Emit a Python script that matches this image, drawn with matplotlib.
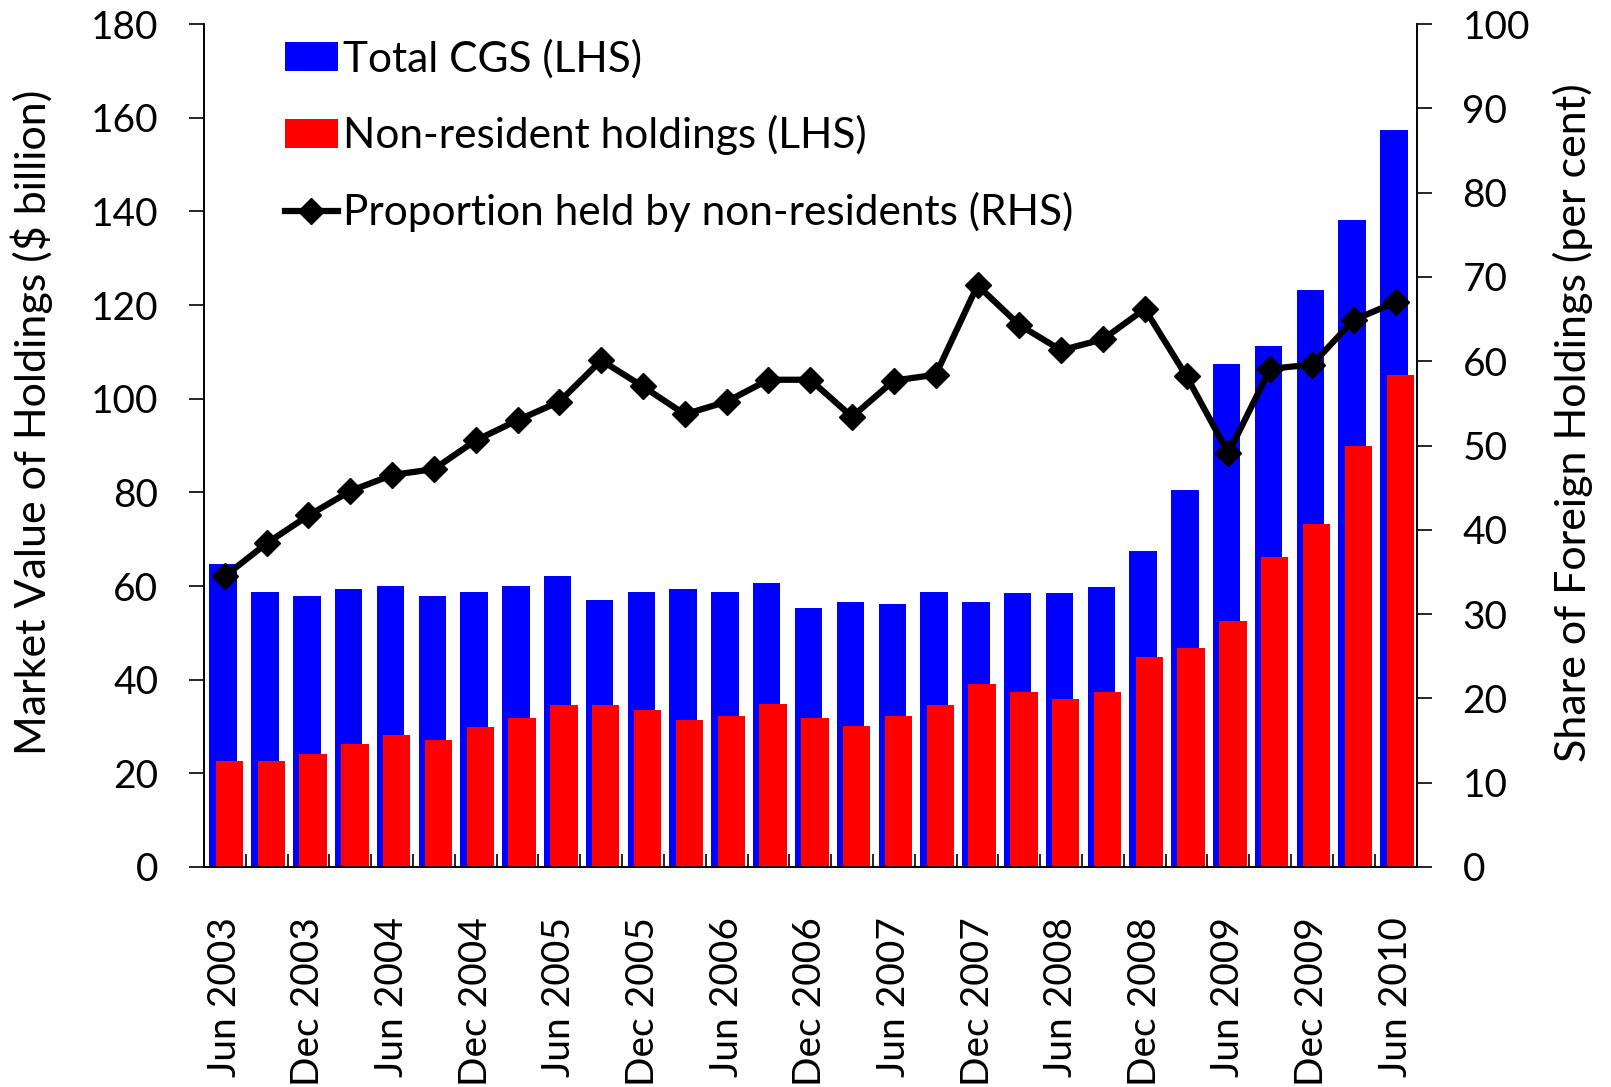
import matplotlib
matplotlib.use("Agg")
import matplotlib.pyplot as plt
import numpy as np

plt.rcParams['font.family'] = ['Lato', 'DejaVu Sans']

quarters = ["Jun 2003", "Sep 2003", "Dec 2003", "Mar 2004", "Jun 2004", "Sep 2004",
            "Dec 2004", "Mar 2005", "Jun 2005", "Sep 2005", "Dec 2005", "Mar 2006",
            "Jun 2006", "Sep 2006", "Dec 2006", "Mar 2007", "Jun 2007", "Sep 2007",
            "Dec 2007", "Mar 2008", "Jun 2008", "Sep 2008", "Dec 2008", "Mar 2009",
            "Jun 2009", "Sep 2009", "Dec 2009", "Mar 2010", "Jun 2010"]

total_cgs = [64.8, 58.8, 57.9, 59.3, 60.1, 57.9, 58.8, 60.1, 62.1, 57.1,
             58.8, 59.3, 58.8, 60.6, 55.3, 56.6, 56.2, 58.8, 56.6, 58.4,
             58.4, 59.7, 67.4, 80.6, 107.3, 111.3, 123.1, 138.1, 157.4]

non_resident = [22.6, 22.6, 24.1, 26.3, 28.1, 27.2, 29.9, 31.8, 34.5, 34.5,
                33.6, 31.4, 32.3, 34.9, 31.8, 30.1, 32.3, 34.5, 39.1, 37.3,
                35.8, 37.3, 44.8, 46.8, 52.5, 66.1, 73.3, 90.0, 105.1]

proportion = [34.5, 38.4, 41.7, 44.6, 46.5, 47.2, 50.6, 53.0, 55.2, 60.1,
              57.0, 53.7, 55.2, 57.8, 57.8, 53.4, 57.7, 58.4, 69.0, 64.3,
              61.3, 62.6, 66.2, 58.2, 49.1, 59.1, 59.6, 64.9, 67.0]

label_names = ["Total CGS (LHS)", "Non-resident holdings (LHS)",
               "Proportion held by non-residents (RHS)"]

fig = plt.figure(figsize=(16.11, 10.87), dpi=100)
ax = fig.add_axes([0.1266, 0.2024, 0.8793 - 0.1266, 0.9779 - 0.2024])
ax2 = ax.twinx()

x = np.arange(len(quarters))
w = 0.655
b1 = ax.bar(x - 0.04, total_cgs, width=w, color='#0000FF', label=label_names[0], zorder=2)
b2 = ax.bar(x + 0.11, non_resident, width=w, color='#FF0000', label=label_names[1], zorder=3)
ln, = ax2.plot(x, proportion, color='black', lw=4.5, marker='D', markersize=13.5,
               label=label_names[2], zorder=5)

ax.set_xlim(-0.5, len(quarters) - 0.5)
ax.set_ylim(0, 180)
ax2.set_ylim(0, 100)
ax.set_yticks(np.arange(0, 181, 20))
ax2.set_yticks(np.arange(0, 101, 10))

fs = 28
ax.tick_params(axis='y', labelsize=fs, direction='out', length=11, width=1.2, pad=22)
ax2.tick_params(axis='y', labelsize=fs, direction='out', length=11, width=1.2, pad=22)

ax.set_xticks(x[::2])
ax.set_xticklabels(quarters[::2], rotation=90, fontsize=fs)
ax.tick_params(axis='x', which='major', length=0, pad=36)
ax.set_xticks(np.arange(0.5, len(quarters) - 0.5, 1), minor=True)
ax.tick_params(axis='x', which='minor', direction='in', length=9.5, width=1.2)

for a in (ax, ax2):
    a.spines['top'].set_visible(False)
    for s in ('left', 'right', 'bottom'):
        a.spines[s].set_linewidth(1.2)

lab_fs = 31
ax.set_ylabel("Market Value of Holdings ($ billion)", fontsize=lab_fs)
ax2.set_ylabel("Share of Foreign Holdings (per cent)", fontsize=lab_fs)
ax.yaxis.set_label_coords(-0.1245, 0.527)
ax2.yaxis.set_label_coords(1.112, 0.527)

leg_fs = 30.5
leg = ax2.legend([b1, b2, ln], label_names, loc='upper left',
                 bbox_to_anchor=(285 / 1611, 1 - 39 / 1087),
                 bbox_transform=fig.transFigure, frameon=False, fontsize=leg_fs,
                 handlelength=1.24, handletextpad=0.14, labelspacing=0.87,
                 borderpad=0, borderaxespad=0)

fig.savefig("out.png", dpi=100)
